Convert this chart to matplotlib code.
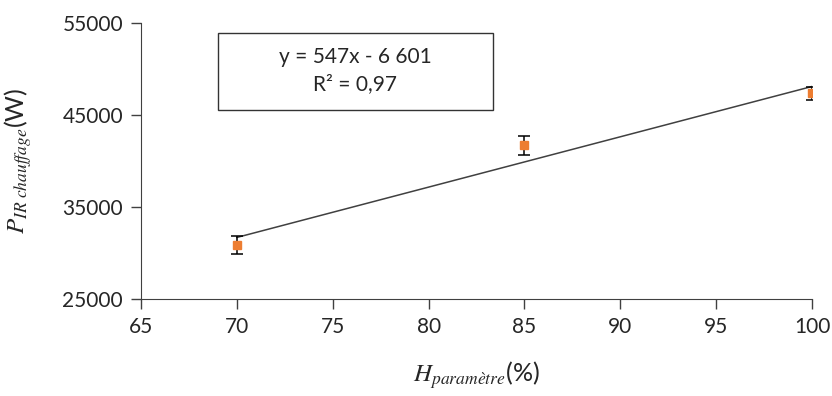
import matplotlib
matplotlib.use("Agg")
import matplotlib.pyplot as plt
from matplotlib.patches import Rectangle
import numpy as np

# data
h_param = [70, 85, 100]
p_ir = [30870, 41700, 47350]
p_err = [1000, 1030, 700]

# trendline as printed in the box
slope = 547
intercept = -6601
r2_label = "R² = 0,97"
eq_label = "y = 547x - 6 601"

x_ticks = [65, 70, 75, 80, 85, 90, 95, 100]
y_ticks = [25000, 35000, 45000, 55000]

plt.rcParams['font.family'] = ['Lato', 'DejaVu Sans']
plt.rcParams['mathtext.fontset'] = 'stix'

fig = plt.figure(figsize=(8.32, 3.96), dpi=100)
ax = fig.add_axes([0.1695, 0.245, 0.8065, 0.697])

# trendline over the data range
xt = np.array([min(h_param), max(h_param)])
ax.plot(xt, slope * xt + intercept, color='#404040', lw=1.1, zorder=2)

ax.errorbar(h_param, p_ir, yerr=p_err, fmt='s', color='#ED7D31', ms=6,
            ecolor='black', elinewidth=1.1, capsize=4.5, capthick=1.1, zorder=3)

ax.set_xlim(65, 100)
ax.set_ylim(25000, 55000)
ax.set_xticks(x_ticks)
ax.set_yticks(y_ticks)
ax.tick_params(labelsize=15, colors='#404040', length=7, width=1, pad=6)
ax.tick_params(axis='both', labelcolor='#262626')

for s in ['top', 'right']:
    ax.spines[s].set_visible(False)
for s in ['left', 'bottom']:
    ax.spines[s].set_color('#404040')

ax.set_xlabel(r'$H_{paramètre}$(%)', fontsize=18, color='#262626', labelpad=16)
ax.set_ylabel(r'$P_{IR\ chauffage}$(W)', fontsize=18, color='#262626')
ax.yaxis.set_label_coords(-0.16, 0.5)

# equation box
fig.add_artist(Rectangle((0.262, 0.722), 0.3305, 0.194, transform=fig.transFigure,
                         fc='white', ec='#333333', lw=1))
fig.text(0.4267, 0.856, eq_label, ha='center', va='center', fontsize=15, color='#262626')
fig.text(0.4267, 0.788, r2_label, ha='center', va='center', fontsize=15, color='#262626')

plt.savefig("out.png", dpi=100)
